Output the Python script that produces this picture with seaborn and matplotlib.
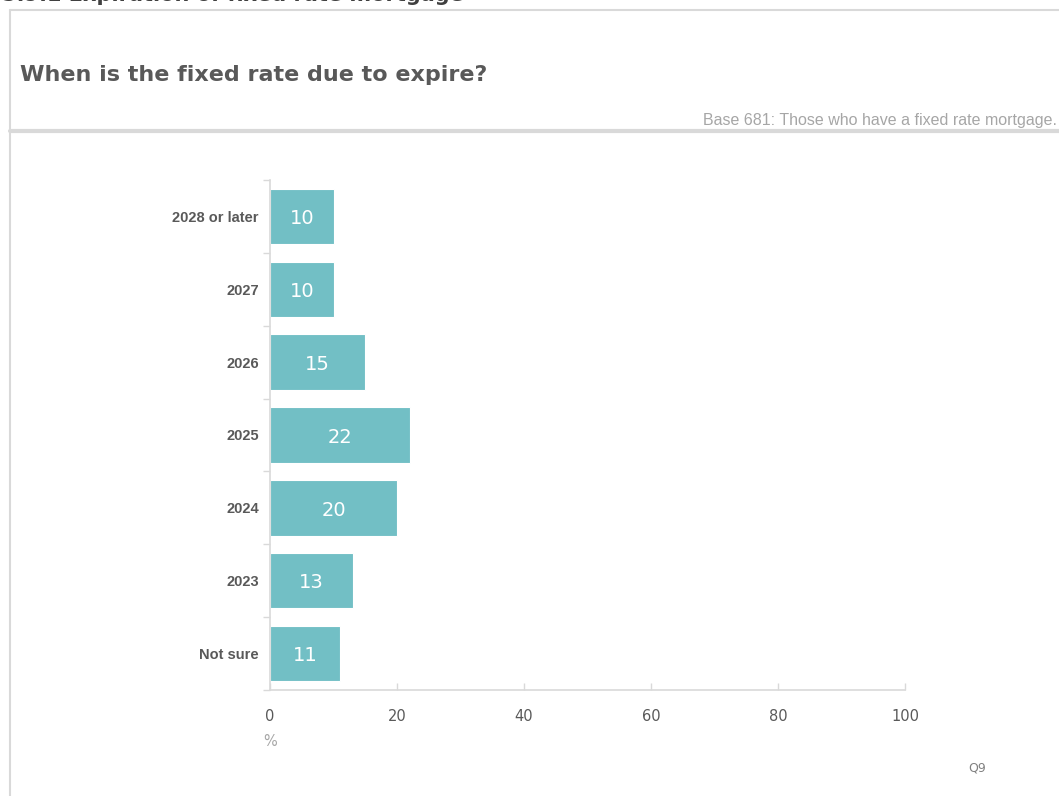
import matplotlib
matplotlib.use("Agg")
import matplotlib.pyplot as plt
from matplotlib.lines import Line2D
import seaborn as sns
import pandas as pd
import numpy as np

# Survey answers (percent of respondents)
categories = ["2028 or later", "2027", "2026", "2025", "2024", "2023", "Not sure"]
values = [10, 10, 15, 22, 20, 13, 11]
x_ticks = [0, 20, 40, 60, 80, 100]

BAR = "#72bfc5"
TXT = "#595959"
LIGHT = "#d9d9d9"

sns.set_theme(style="white")
plt.rcParams["font.family"] = ["DejaVu Sans"]

W, H = 1059, 796
fig = plt.figure(figsize=(W / 100, H / 100), dpi=100)
fig.patch.set_facecolor("white")

def fx(px):
    return px / W

def fy(py):
    return 1 - py / H

# Panel frame and header separator
fig.add_artist(Line2D([fx(10), fx(10)], [fy(10), fy(800)], color=LIGHT, lw=1.5))
fig.add_artist(Line2D([fx(10), fx(1065)], [fy(10), fy(10)], color=LIGHT, lw=1.5))
fig.add_artist(Line2D([fx(10), fx(1065)], [fy(131), fy(131)], color=LIGHT, lw=3))

# Section heading (runs off the top edge)
fig.text(fx(2), fy(-5), "5.9.1 Expiration of fixed rate mortgage", fontsize=15,
         fontweight="bold", color="#404040", ha="left", va="center")
fig.text(fx(20), fy(75), "When is the fixed rate due to expire?", fontsize=16,
         fontweight="bold", color=TXT, ha="left", va="center")
fig.text(fx(1057), fy(121), "Base 681: Those who have a fixed rate mortgage.",
         fontsize=11.5, color="#a6a6a6", ha="right", va="center",
         family="Liberation Sans")

ax = fig.add_axes([fx(270), fy(690), fx(905) - fx(270), fy(180) - fy(690)])

df = pd.DataFrame({"category": categories, "value": values})
sns.barplot(data=df, x="value", y="category", order=categories, orient="h",
            color=BAR, saturation=1, width=0.76, edgecolor="white",
            linewidth=0.8, ax=ax)

for i, v in enumerate(values):
    ax.text(v / 2, i + 0.03, f"{v}", ha="center", va="center", color="white",
            fontsize=14)

ax.set_xlim(0, 100)
ax.set_ylim(len(categories) - 0.5, -0.5)
ax.set_xticks(x_ticks)
ax.set_xticklabels([str(t) for t in x_ticks], fontsize=10.5, color=TXT)
ax.tick_params(axis="x", direction="in", length=5, color=LIGHT, width=1,
               pad=14, bottom=True)
ax.set_yticks(range(len(categories)))
ax.set_yticklabels(categories, fontsize=10.5, fontweight="bold", color=TXT,
                   family="Liberation Sans")
ax.tick_params(axis="y", which="major", length=0, pad=8)
ax.set_yticks(np.arange(-0.5, len(categories), 1.0), minor=True)
ax.tick_params(axis="y", which="minor", direction="out", length=5,
               color=LIGHT, width=1, left=True)
ax.set_xlabel("")
ax.set_ylabel("")

for side in ["top", "right"]:
    ax.spines[side].set_visible(False)
for side in ["left", "bottom"]:
    ax.spines[side].set_color(LIGHT)
    ax.spines[side].set_linewidth(1.2)

fig.text(fx(270), fy(742), "%", fontsize=10.5, color="#a6a6a6",
         ha="center", va="center")
fig.text(fx(977), fy(768), "Q9", fontsize=9, color="#808080",
         ha="center", va="center")

fig.savefig("out.png", dpi=100)
